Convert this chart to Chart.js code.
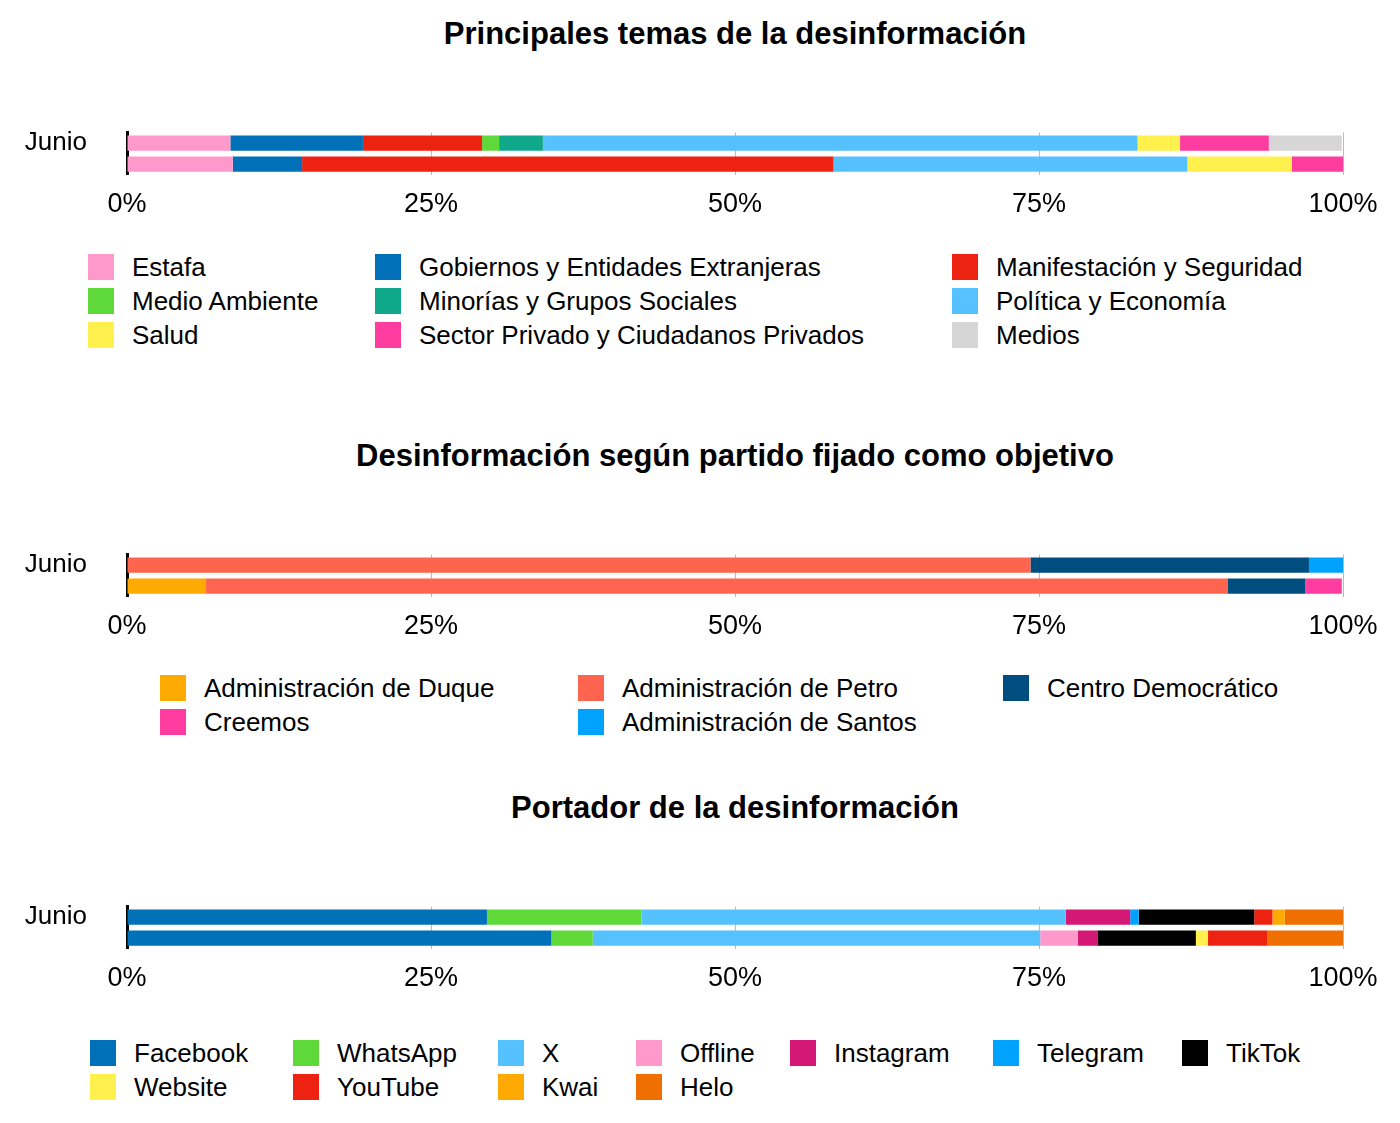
<!DOCTYPE html>
<html><head><meta charset="utf-8">
<script src="https://cdn.jsdelivr.net/npm/chart.js@4"></script>
<style>
body{margin:0;background:#fff;font-family:"Liberation Sans",Arial,sans-serif;}
.box{position:absolute;left:0;width:1400px;}
.ttl{position:absolute;left:127px;width:1216px;text-align:center;font-size:31px;font-weight:bold;color:#000;}
.lg{position:absolute;font-size:26px;color:#000;white-space:nowrap;}
.lg span{display:inline-block;width:26px;height:26px;vertical-align:-4px;margin-right:18px;}
</style></head><body>
<div class="ttl" style="top:16px">Principales temas de la desinformación</div>
<div class="ttl" style="top:438px">Desinformación según partido fijado como objetivo</div>
<div class="ttl" style="top:790px">Portador de la desinformación</div>
<div class="box" style="top:85px;height:150px"><canvas id="c1"></canvas></div>
<div class="box" style="top:507px;height:150px"><canvas id="c2"></canvas></div>
<div class="box" style="top:859px;height:150px"><canvas id="c3"></canvas></div>
<div id="legends"></div>
<script>
const months = ['Junio','Mayo'];
const ticks = ['0%','25%','50%','75%','100%'];

// Principales temas
const temas = ['Estafa','Gobiernos y Entidades Extranjeras','Manifestación y Seguridad','Medio Ambiente','Minorías y Grupos Sociales','Política y Economía','Salud','Sector Privado y Ciudadanos Privados','Medios'];
const temasColors = ['#FF99CC','#0070B8','#EE2211','#5FD83A','#0FA88A','#56C1FF','#FFF04D','#FF3DA0','#D6D6D6'];
const temasJunio = [8.5,10.9,9.8,1.4,3.6,48.9,3.5,7.3,6.0];
const temasMayo  = [8.7,5.7,43.7,0,0,29.1,8.6,4.3,0];

// Partido objetivo
const partidos = ['Administración de Duque','Administración de Petro','Centro Democrático','Creemos','Administración de Santos'];
const partidosColors = ['#FFAA00','#FF644E','#004D80','#FF3DA0','#00A2FF'];
const partidosJunio = [0,74.3,22.9,0,2.8];
const partidosMayo  = [6.5,84.0,6.4,3.0,0];

// Portador
const portadores = ['Facebook','WhatsApp','X','Offline','Instagram','Telegram','TikTok','Website','YouTube','Kwai','Helo'];
const portadoresColors = ['#0070B8','#5FD83A','#56C1FF','#FF99CC','#D31876','#00A2FF','#000000','#FFF04D','#EE2211','#FFAA00','#EF6F00'];
const portadoresJunio = [29.6,12.7,34.9,0,5.3,0.7,9.5,0,1.5,1.0,4.9];
const portadoresMayo  = [34.9,3.4,36.8,3.1,1.6,0,8.1,1.0,4.9,0,6.3];

const FONT = '"Liberation Sans",Arial,sans-serif';

function makeChart(id, names, colors, junio, mayo){
  new Chart(document.getElementById(id),{
    type:'bar',
    data:{labels:months, datasets:names.map((n,i)=>({label:n,data:[junio[i],mayo[i]],backgroundColor:colors[i],barPercentage:0.72,categoryPercentage:1}))},
    options:{
      indexAxis:'y',responsive:true,maintainAspectRatio:false,animation:false,
      layout:{padding:{left:10,right:57,top:4}},
      plugins:{legend:{display:false},tooltip:{enabled:false}},
      scales:{
        x:{stacked:true,min:0,max:100,
          ticks:{stepSize:25,color:'#000',font:{family:FONT,size:27},padding:14,callback:(v,i)=>ticks[i]},
          grid:{color:'#bbb',drawTicks:false},border:{display:false}},
        y:{stacked:true,afterFit:s=>{s.width=117;},
          ticks:{color:'#000',font:{family:FONT,size:26},padding:32},
          grid:{display:false},border:{color:'#000',width:3}}
      }
    }
  });
}
makeChart('c1',temas,temasColors,temasJunio,temasMayo);
makeChart('c2',partidos,partidosColors,partidosJunio,partidosMayo);
makeChart('c3',portadores,portadoresColors,portadoresJunio,portadoresMayo);

function legend(names, colors, order, cols, rows){
  const el = document.getElementById('legends');
  order.forEach((idx,k)=>{
    const d = document.createElement('div');
    d.className='lg';
    d.style.left = cols[k%cols.length]+'px';
    d.style.top = (rows[Math.floor(k/cols.length)]-15)+'px';
    d.innerHTML = '<span style="background:'+colors[idx]+'"></span>'+names[idx];
    el.appendChild(d);
  });
}
legend(temas,temasColors,[0,1,2,3,4,5,6,7,8],[88,375,952],[267,301,335]);
legend(partidos,partidosColors,[0,1,2,3,4],[160,578,1003],[688,722]);
legend(portadores,portadoresColors,[0,1,2,3,4,5,6,7,8,9,10],[90,293,498,636,790,993,1182],[1053,1087]);
</script>
</body></html>
